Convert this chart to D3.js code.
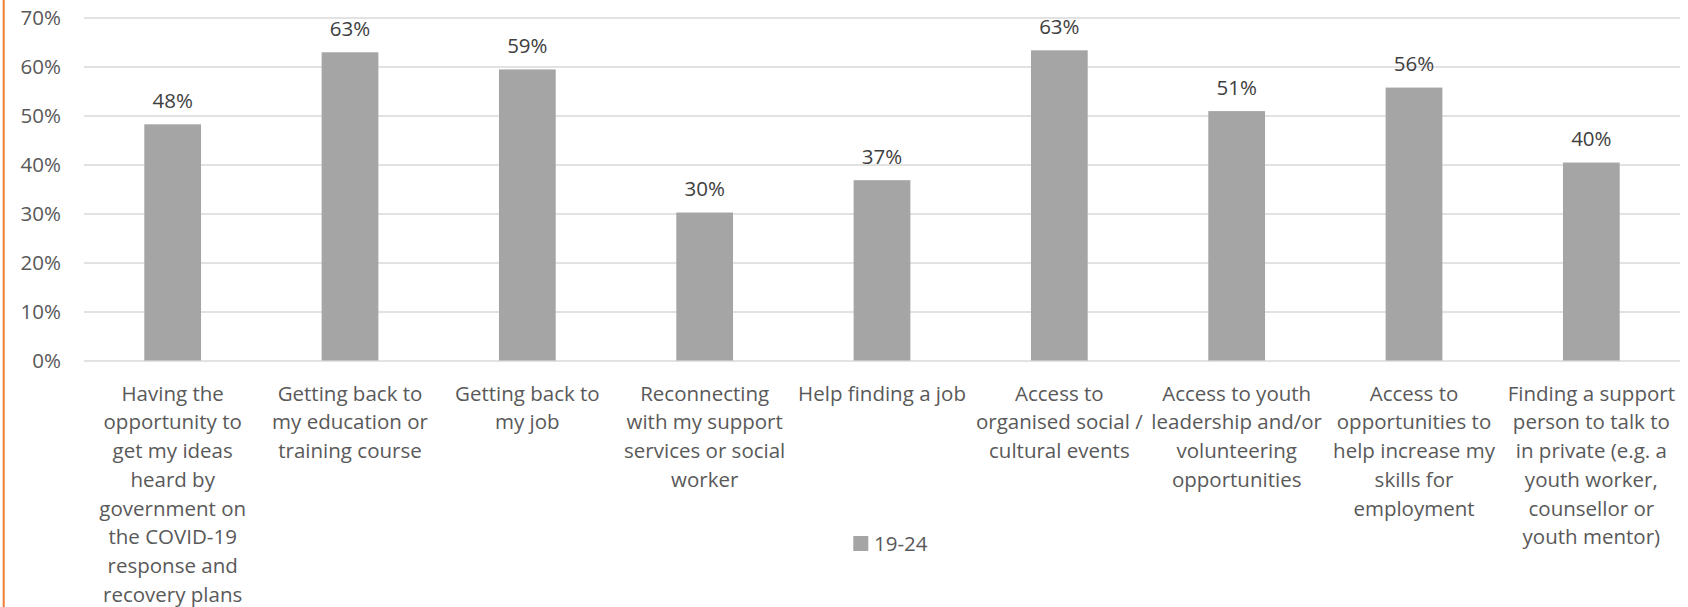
<!DOCTYPE html>
<html>
<head>
<meta charset="utf-8">
<script src="https://cdn.jsdelivr.net/npm/d3@7"></script>
<style>
  html, body { margin: 0; padding: 0; background: #ffffff; }
  svg { display: block; }
  text { font-family: "Open Sans", "Liberation Sans", sans-serif; font-size: 20.5px; }
</style>
</head>
<body>
<svg id="chart" width="1688" height="607"></svg>
<script>
// Support items, one bar each (line breaks mark label wrapping)
const categories = [
  "Having the\nopportunity to\nget my ideas\nheard by\ngovernment on\nthe COVID-19\nresponse and\nrecovery plans",
  "Getting back to\nmy education or\ntraining course",
  "Getting back to\nmy job",
  "Reconnecting\nwith my support\nservices or social\nworker",
  "Help finding a job",
  "Access to\norganised social /\ncultural events",
  "Access to youth\nleadership and/or\nvolunteering\nopportunities",
  "Access to\nopportunities to\nhelp increase my\nskills for\nemployment",
  "Finding a support\nperson to talk to\nin private (e.g. a\nyouth worker,\ncounsellor or\nyouth mentor)"
];

// Share of respondents aged 19-24 (%)
const values = [48.2, 62.9, 59.4, 30.2, 36.8, 63.3, 50.9, 55.7, 40.4];

const seriesName = "19-24";
const yTicks = [0, 10, 20, 30, 40, 50, 60, 70];

const W = 1688, H = 607;
const plotLeft = 84, plotRight = 1680, plotTop = 17.5, plotBottom = 360.5;
const barColor = "#a5a5a5";
const gridColor = "#d9d9d9";
const axisText = "#595959";
const labelText = "#404040";

const svg = d3.select("#chart");

svg.append("rect").attr("width", W).attr("height", H).attr("fill", "#ffffff");

// orange rule on the left edge
svg.append("rect")
  .attr("x", 2.7).attr("y", 0)
  .attr("width", 2).attr("height", H)
  .attr("fill", "#ED7D31");

const x = d3.scaleBand()
  .domain(categories)
  .range([plotLeft, plotRight])
  .paddingInner(0.68)
  .paddingOuter(0.34);

const y = d3.scaleLinear()
  .domain([0, 70])
  .range([plotBottom, plotTop]);

// value axis with gridlines
const yAxis = svg.append("g")
  .attr("transform", `translate(${plotLeft},0)`)
  .call(d3.axisLeft(y)
    .tickValues(yTicks)
    .tickSize(-(plotRight - plotLeft))
    .tickPadding(23)
    .tickFormat(d => d + "%"));

yAxis.select(".domain").remove();
yAxis.selectAll(".tick line")
  .attr("stroke", gridColor)
  .attr("stroke-width", 1.3);
yAxis.selectAll(".tick text")
  .attr("fill", axisText)
  .attr("font-family", null)
  .attr("font-size", null)
  .attr("dy", "0.36em");

// bars
svg.append("g")
  .selectAll("rect")
  .data(values)
  .join("rect")
  .attr("x", (d, i) => x(categories[i]))
  .attr("y", d => y(d))
  .attr("width", x.bandwidth())
  .attr("height", d => y(0) - y(d))
  .attr("fill", barColor);

// value labels above bars
svg.append("g")
  .selectAll("text")
  .data(values)
  .join("text")
  .attr("x", (d, i) => x(categories[i]) + x.bandwidth() / 2)
  .attr("y", d => y(d) - 16.5)
  .attr("text-anchor", "middle")
  .attr("fill", labelText)
  .text(d => Math.round(d) + "%");

// category axis with wrapped labels
const xAxis = svg.append("g")
  .attr("transform", `translate(0,${plotBottom})`)
  .call(d3.axisBottom(x).tickSize(0).tickPadding(0));

xAxis.select(".domain").remove();
xAxis.selectAll(".tick text")
  .attr("fill", axisText)
  .attr("font-family", null)
  .attr("font-size", null)
  .attr("y", null)
  .attr("dy", null)
  .each(function (d) {
    const t = d3.select(this);
    t.text(null);
    d.split("\n").forEach((line, i) => {
      t.append("tspan")
        .attr("x", 0)
        .attr("y", 40.2 + i * 28.7)
        .text(line);
    });
  });

// legend
const legend = svg.append("g").attr("transform", "translate(853.3,536)");
legend.append("rect")
  .attr("width", 15).attr("height", 15)
  .attr("fill", barColor);
legend.append("text")
  .attr("x", 20.7).attr("y", 15)
  .attr("fill", axisText)
  .text(seriesName);
</script>
</body>
</html>
